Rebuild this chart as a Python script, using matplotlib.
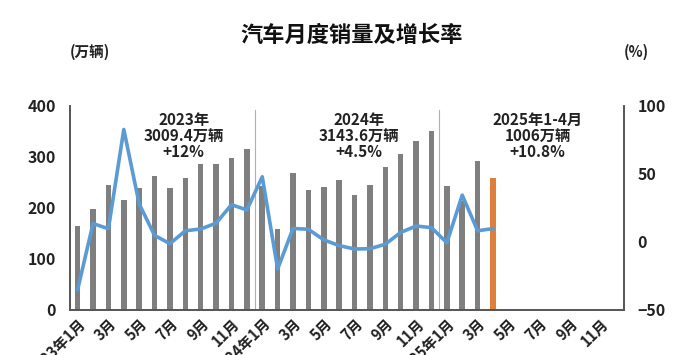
import matplotlib
matplotlib.use("Agg")
import matplotlib.pyplot as plt
import numpy as np

plt.rcParams['font.family'] = ['Noto Sans CJK SC', 'DejaVu Sans']

# monthly sales (万辆), Jan 2023 .. Apr 2025
sales = [164.9, 197.6, 245.1, 215.9, 238.2, 262.2, 238.7, 258.2, 285.8,
         285.3, 297.0, 315.6,
         243.9, 158.4, 269.4, 235.9, 241.7, 255.3, 226.2, 245.3, 280.9,
         305.3, 331.6, 349.9,
         242.3, 212.9, 291.5, 259.0]
# year-on-year growth (%)
growth = [-35.0, 13.5, 9.7, 82.7, 27.9, 4.8, -1.3, 8.2, 9.5, 13.8, 27.4,
          23.5,
          47.9, -19.9, 9.9, 9.3, 1.5, -2.7, -5.2, -5.0, -1.7, 7.0, 11.7,
          10.5,
          -0.6, 34.4, 8.2, 9.8]
n_slots = 36
tick_labels = ["2023年1月", "3月", "5月", "7月", "9月", "11月",
               "2024年1月", "3月", "5月", "7月", "9月", "11月",
               "2025年1月", "3月", "5月", "7月", "9月", "11月"]
notes = ["2023年\n3009.4万辆\n+12%", "2024年\n3143.6万辆\n+4.5%",
         "2025年1-4月\n1006万辆\n+10.8%"]
note_x = [6.9, 18.3, 29.9]

fig = plt.figure(figsize=(6.9, 3.55), dpi=100)
ax = fig.add_axes([0.1014, 0.127, 0.8026, 0.5746])
ax2 = ax.twinx()

x = np.arange(len(sales))
colors = ["#7f7f7f"] * (len(sales) - 1) + ["#e07f3a"]
ax.bar(x, sales, width=0.36, color=colors, zorder=2)
ax.set_xlim(-0.5, n_slots - 0.5)
ax.set_ylim(0, 400)
ax.set_yticks([0, 100, 200, 300, 400])

ax2.plot(x, growth, color="#5b9bd5", lw=2.6, zorder=3)
ax2.set_ylim(-50, 100)
ax2.set_yticks([-50, 0, 50, 100])

# year separators
for sx in [11.5, 23.5]:
    ax.axvline(sx, ymin=0, ymax=0.98, color="#b0b0b0", lw=0.8, zorder=1)

ax.set_xticks(np.arange(0, n_slots, 2))
ax.set_xticklabels(tick_labels, rotation=45, ha="right",
                   rotation_mode="anchor", fontsize=10.5, fontweight="bold",
                   color="#222222")

for a in (ax, ax2):
    a.spines["top"].set_visible(False)
    a.tick_params(length=0, labelsize=11.5, colors="#222222")
    for s in ("left", "right", "bottom"):
        a.spines[s].set_color("#555555")
        a.spines[s].set_linewidth(1.2)
    for lab in a.get_yticklabels():
        lab.set_fontweight("bold")
ax.tick_params(axis="y", pad=10)
ax2.tick_params(axis="y", pad=10)
ax.tick_params(axis="x", pad=4, labelsize=10.5)

for nx, txt in zip(note_x, notes):
    ax.text(nx, 388, txt, ha="center", va="top", fontsize=11,
            fontweight="bold", color="#222222", linespacing=1.0,
            zorder=4)

fig.text(0.51, 0.9, "汽车月度销量及增长率", ha="center", va="center",
         fontsize=16, fontweight="bold", color="#111111")
fig.text(0.13, 0.853, "(万辆)", ha="center", va="center", fontsize=10.5,
         fontweight="bold", color="#222222")
fig.text(0.922, 0.853, "(%)", ha="center", va="center", fontsize=10.5,
         fontweight="bold", color="#222222")

fig.savefig("out.png", dpi=100)
